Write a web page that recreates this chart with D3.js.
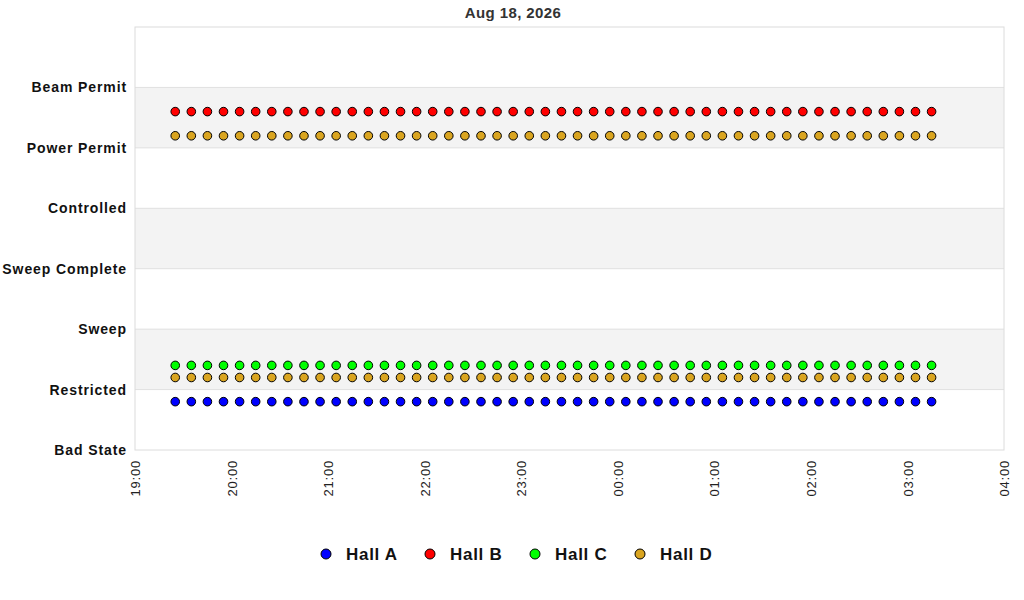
<!DOCTYPE html>
<html>
<head>
<meta charset="utf-8">
<script src="https://cdnjs.cloudflare.com/ajax/libs/d3/7.8.5/d3.min.js"></script>
<style>
  body { margin: 0; background: #fff; font-family: "Liberation Sans", Arial, sans-serif; }
</style>
</head>
<body>
<div id="chart"></div>
<script>
// state labels, bottom to top
var states = ["Bad State", "Restricted", "Sweep", "Sweep Complete", "Controlled", "Power Permit", "Beam Permit"];
var tickLabels = ["19:00", "20:00", "21:00", "22:00", "23:00", "00:00", "01:00", "02:00", "03:00", "04:00"];

// sample times (every 10 min)
var times = ["2026-08-18 19:25","2026-08-18 19:35","2026-08-18 19:45","2026-08-18 19:55","2026-08-18 20:05","2026-08-18 20:15",
  "2026-08-18 20:25","2026-08-18 20:35","2026-08-18 20:45","2026-08-18 20:55","2026-08-18 21:05","2026-08-18 21:15",
  "2026-08-18 21:25","2026-08-18 21:35","2026-08-18 21:45","2026-08-18 21:55","2026-08-18 22:05","2026-08-18 22:15",
  "2026-08-18 22:25","2026-08-18 22:35","2026-08-18 22:45","2026-08-18 22:55","2026-08-18 23:05","2026-08-18 23:15",
  "2026-08-18 23:25","2026-08-18 23:35","2026-08-18 23:45","2026-08-18 23:55","2026-08-19 00:05","2026-08-19 00:15",
  "2026-08-19 00:25","2026-08-19 00:35","2026-08-19 00:45","2026-08-19 00:55","2026-08-19 01:05","2026-08-19 01:15",
  "2026-08-19 01:25","2026-08-19 01:35","2026-08-19 01:45","2026-08-19 01:55","2026-08-19 02:05","2026-08-19 02:15",
  "2026-08-19 02:25","2026-08-19 02:35","2026-08-19 02:45","2026-08-19 02:55","2026-08-19 03:05","2026-08-19 03:15"];

var hallA = [0.8,0.8,0.8,0.8,0.8,0.8,0.8,0.8,0.8,0.8,0.8,0.8,0.8,0.8,0.8,0.8,0.8,0.8,0.8,0.8,0.8,0.8,0.8,0.8,
             0.8,0.8,0.8,0.8,0.8,0.8,0.8,0.8,0.8,0.8,0.8,0.8,0.8,0.8,0.8,0.8,0.8,0.8,0.8,0.8,0.8,0.8,0.8,0.8];
var hallB = [5.6,5.6,5.6,5.6,5.6,5.6,5.6,5.6,5.6,5.6,5.6,5.6,5.6,5.6,5.6,5.6,5.6,5.6,5.6,5.6,5.6,5.6,5.6,5.6,
             5.6,5.6,5.6,5.6,5.6,5.6,5.6,5.6,5.6,5.6,5.6,5.6,5.6,5.6,5.6,5.6,5.6,5.6,5.6,5.6,5.6,5.6,5.6,5.6];
var hallC = [1.4,1.4,1.4,1.4,1.4,1.4,1.4,1.4,1.4,1.4,1.4,1.4,1.4,1.4,1.4,1.4,1.4,1.4,1.4,1.4,1.4,1.4,1.4,1.4,
             1.4,1.4,1.4,1.4,1.4,1.4,1.4,1.4,1.4,1.4,1.4,1.4,1.4,1.4,1.4,1.4,1.4,1.4,1.4,1.4,1.4,1.4,1.4,1.4];
var hallD = [1.2,1.2,1.2,1.2,1.2,1.2,1.2,1.2,1.2,1.2,1.2,1.2,1.2,1.2,1.2,1.2,1.2,1.2,1.2,1.2,1.2,1.2,1.2,1.2,
             1.2,1.2,1.2,1.2,1.2,1.2,1.2,1.2,1.2,1.2,1.2,1.2,1.2,1.2,1.2,1.2,1.2,1.2,1.2,1.2,1.2,1.2,1.2,1.2];
var hallD2 = [5.2,5.2,5.2,5.2,5.2,5.2,5.2,5.2,5.2,5.2,5.2,5.2,5.2,5.2,5.2,5.2,5.2,5.2,5.2,5.2,5.2,5.2,5.2,5.2,
              5.2,5.2,5.2,5.2,5.2,5.2,5.2,5.2,5.2,5.2,5.2,5.2,5.2,5.2,5.2,5.2,5.2,5.2,5.2,5.2,5.2,5.2,5.2,5.2];

var legendNames = ["Hall A", "Hall B", "Hall C", "Hall D"];
var colors = ["#0000ff", "#ff0000", "#00ff00", "#daa520"];

var series = [
  {name: "Hall A", values: hallA, color: colors[0]},
  {name: "Hall B", values: hallB, color: colors[1]},
  {name: "Hall C", values: hallC, color: colors[2]},
  {name: "Hall D", values: hallD, color: colors[3]},
  {name: "Hall D", values: hallD2, color: colors[3]}
];

var parse = d3.timeParse("%Y-%m-%d %H:%M");

var margin = {left: 135, right: 20, top: 27, bottom: 150};
var W = 1024, H = 600;
var width = W - margin.left - margin.right;
var height = H - margin.top - margin.bottom;

var svg = d3.select("#chart").append("svg")
    .attr("width", W).attr("height", H);

svg.append("text")
    .attr("x", 513)
    .attr("y", 18)
    .attr("text-anchor", "middle")
    .style("font-size", "15px")
    .style("letter-spacing", "0.4px")
    .style("font-weight", "bold")
    .style("fill", "#333")
    .text("Aug 18, 2026");

var g = svg.append("g").attr("transform", "translate(" + margin.left + "," + margin.top + ")");

var x = d3.scaleTime()
    .domain([parse("2026-08-18 19:00"), parse("2026-08-19 04:00")])
    .range([0, width]);

var y = d3.scaleLinear()
    .domain([0, states.length])
    .range([height, 0]);

// alternating bands
var bands = [5, 3, 1];
g.selectAll(".band")
  .data(bands)
  .enter().append("rect")
    .attr("class", "band")
    .attr("x", 0)
    .attr("width", width)
    .attr("y", function(d) { return y(d + 1); })
    .attr("height", function(d) { return y(d) - y(d + 1); })
    .attr("fill", "#f3f3f3");

// horizontal grid lines
g.selectAll(".grid")
  .data(d3.range(1, states.length))
  .enter().append("line")
    .attr("x1", 0).attr("x2", width)
    .attr("y1", function(d) { return y(d); })
    .attr("y2", function(d) { return y(d); })
    .attr("stroke", "#e0e0e0");

// plot border
g.append("rect")
    .attr("width", width).attr("height", height)
    .attr("fill", "none")
    .attr("stroke", "#dcdcdc");

// y axis
var yAxis = g.append("g")
    .call(d3.axisLeft(y).tickValues(d3.range(states.length))
      .tickFormat(function(d) { return states[d]; })
      .tickSize(0).tickPadding(8));
yAxis.select(".domain").remove();
yAxis.selectAll("text")
    .style("font-family", "Liberation Sans, Arial, sans-serif")
    .style("font-size", "14px")
    .style("letter-spacing", "0.9px")
    .style("font-weight", "bold")
    .style("fill", "#111");

// x axis
var xTicks = tickLabels.map(function(t, i) {
  return d3.timeHour.offset(parse("2026-08-18 19:00"), i);
});
var xAxis = g.append("g")
    .attr("transform", "translate(0," + height + ")")
    .call(d3.axisBottom(x).tickValues(xTicks)
      .tickFormat(function(d, i) { return tickLabels[i]; })
      .tickSize(0));
xAxis.select(".domain").remove();
xAxis.selectAll("text")
    .attr("transform", "rotate(-90)")
    .attr("text-anchor", "end")
    .attr("x", -10)
    .attr("y", 0)
    .attr("dy", "0.35em")
    .style("font-family", "Liberation Sans, Arial, sans-serif")
    .style("font-size", "13px")
    .style("letter-spacing", "0.8px")
    .style("fill", "#222");

// points
series.forEach(function(s) {
  g.append("g").selectAll("circle")
    .data(s.values)
    .enter().append("circle")
      .attr("cx", function(d, i) { return x(parse(times[i])); })
      .attr("cy", function(d) { return y(d); })
      .attr("r", 4.3)
      .attr("fill", s.color)
      .attr("stroke", "#000")
      .attr("stroke-width", 1);
});

// legend
var legendX = [326, 430, 535, 640];
var legend = svg.append("g").attr("transform", "translate(0,554)");
var items = legend.selectAll("g")
  .data(legendNames)
  .enter().append("g")
    .attr("transform", function(d, i) { return "translate(" + legendX[i] + ",0)"; });
items.append("circle")
    .attr("r", 5)
    .attr("fill", function(d, i) { return colors[i]; })
    .attr("stroke", "#000");
items.append("text")
    .attr("x", 20)
    .attr("dy", "0.36em")
    .style("font-size", "17px")
    .style("letter-spacing", "0.7px")
    .style("font-weight", "bold")
    .style("fill", "#111")
    .text(function(d) { return d; });
</script>
</body>
</html>
